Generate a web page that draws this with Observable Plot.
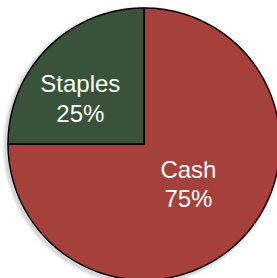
<!DOCTYPE html>
<html><head><meta charset="utf-8">
<script src="https://cdn.jsdelivr.net/npm/d3@7"></script>
<script src="https://cdn.jsdelivr.net/npm/@observablehq/plot@0.6"></script>
<style>html,body{margin:0;padding:0;overflow:hidden;background:#fff;}</style>
</head><body><div id="chart"></div>
<script>
const categories = ["Cash", "Staples"];
const values = [75, 25];
const colors = ["#A6403A", "#3A5239"];
const labels = ["Cash\n75%", "Staples\n25%"];
const labelRadius = [0.436, 0.579];
const labelAngle = [131.5, 306];

const total = d3.sum(values);
let acc = 0;
const slices = categories.map((c, i) => {
  const a0 = acc / total * 2 * Math.PI;
  acc += values[i];
  const a1 = acc / total * 2 * Math.PI;
  return {name: c, a0, a1, color: colors[i], label: labels[i], lr: labelRadius[i], la: labelAngle[i] * Math.PI / 180};
});
const pts = [];
for (const s of slices) {
  pts.push({name: s.name, x: 0, y: 0});
  const n = 200;
  for (let k = 0; k <= n; k++) {
    const a = s.a0 + (s.a1 - s.a0) * k / n;
    pts.push({name: s.name, x: Math.sin(a), y: -Math.cos(a)});
  }
  pts.push({name: s.name, x: 0, y: 0});
}
const circle = d3.range(0, 361).map(d => ({x: Math.sin(d * Math.PI / 180), y: -Math.cos(d * Math.PI / 180)}));
const labelData = slices.map(s => ({label: s.label, x: s.lr * Math.sin(s.la), y: -s.lr * Math.cos(s.la)}));
const colorMap = Object.fromEntries(slices.map(s => [s.name, s.color]));

const plot = Plot.plot({
  width: 277, height: 278,
  x: {domain: [-1, 1], range: [7.5, 279.5], axis: null},
  y: {domain: [-1, 1], range: [7.5, 279.5], axis: null},
  style: {background: "white", overflow: "hidden"},
  marks: [
    Plot.line(circle, {x: "x", y: "y", stroke: "#999", strokeWidth: 4, strokeOpacity: 0.5, dx: -2, dy: 2, imageFilter: "blur(1.5px)"}),
    Plot.line(pts, {x: "x", y: "y", z: "name", fill: d => colorMap[d.name], stroke: "#000", strokeWidth: 1.5, strokeLinejoin: "miter", curve: "linear"}),
    Plot.text(labelData, {x: "x", y: "y", text: "label", fill: "white", fontSize: 24, fontFamily: "Liberation Sans, Arial, sans-serif", lineHeight: 1.22, textAnchor: "middle"})
  ]
});
document.getElementById("chart").appendChild(plot);
</script></body></html>
